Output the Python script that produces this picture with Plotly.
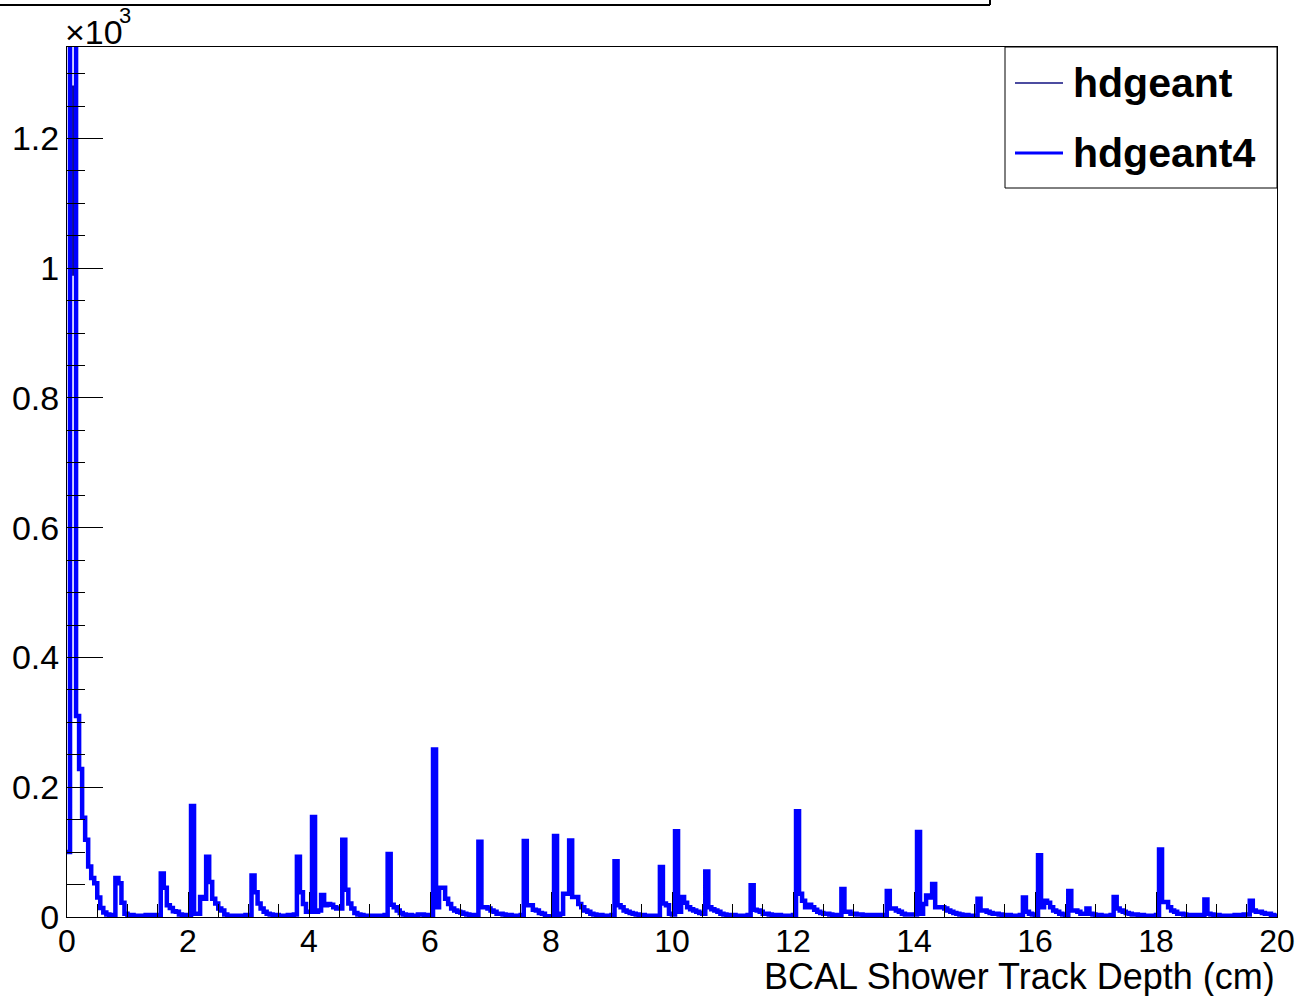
import plotly.graph_objects as go

# BCAL shower track depth, 400 bins of 0.05 cm from 0 to 20 cm
bin_width = 0.05
depth_min = 0.0
depth_max = 20.0
hdgeant4_counts = [
    # 0 - 1 cm
    100, 1500, 1500, 310, 228, 153, 119, 78, 60, 52, 30, 14, 7, 4, 3, 3, 60, 52, 22, 5,
    # 1 - 2 cm
    3, 3, 2, 2, 2, 2, 3, 3, 2, 3, 3, 67, 45, 18, 14, 9, 8, 4, 3, 2,
    # 2 - 3 cm
    3, 171, 5, 5, 31, 28, 93, 54, 28, 21, 13, 10, 4, 2, 2, 1, 2, 2, 2, 3,
    # 3 - 4 cm
    3, 64, 38, 21, 13, 8, 5, 4, 3, 3, 2, 2, 2, 3, 2, 4, 93, 38, 20, 8,
    # 4 - 5 cm
    8, 154, 8, 10, 34, 18, 20, 19, 15, 13, 13, 119, 42, 21, 13, 6, 4, 3, 2, 2,
    # 5 - 6 cm
    2, 2, 1, 2, 2, 3, 97, 19, 15, 10, 6, 4, 3, 3, 2, 2, 4, 4, 3, 3,
    # 6 - 7 cm
    3, 258, 15, 45, 45, 28, 20, 13, 10, 8, 7, 5, 4, 3, 3, 3, 116, 15, 15, 13,
    # 7 - 8 cm
    10, 8, 5, 5, 4, 3, 3, 2, 2, 2, 3, 117, 18, 18, 11, 10, 6, 5, 1, 0,
    # 8 - 9 cm
    1, 125, 3, 5, 36, 36, 118, 31, 31, 20, 15, 10, 8, 5, 4, 3, 3, 2, 2, 2,
    # 9 - 10 cm
    3, 86, 18, 15, 10, 8, 6, 5, 4, 3, 3, 2, 2, 2, 1, 2, 77, 21, 18, 5,
    # 10 - 11 cm
    4, 132, 8, 31, 22, 15, 12, 10, 8, 6, 5, 70, 15, 12, 10, 8, 5, 4, 3, 3,
    # 11 - 12 cm
    3, 2, 2, 2, 2, 3, 49, 11, 10, 8, 5, 5, 4, 3, 3, 3, 2, 2, 2, 2,
    # 12 - 13 cm
    3, 163, 36, 25, 15, 19, 15, 11, 8, 6, 5, 5, 4, 3, 3, 3, 43, 8, 8, 5,
    # 13 - 14 cm
    5, 4, 4, 3, 3, 3, 3, 2, 3, 3, 3, 40, 13, 13, 10, 8, 5, 4, 4, 4,
    # 14 - 15 cm
    4, 131, 5, 20, 33, 30, 51, 15, 15, 15, 13, 10, 8, 6, 5, 4, 3, 3, 2, 2,
    # 15 - 16 cm
    2, 28, 10, 10, 8, 6, 5, 5, 4, 3, 3, 3, 2, 2, 2, 3, 30, 8, 5, 4,
    # 16 - 17 cm
    3, 95, 15, 25, 22, 15, 10, 8, 5, 4, 3, 40, 10, 10, 8, 5, 5, 13, 5, 4,
    # 17 - 18 cm
    3, 3, 2, 2, 2, 3, 31, 13, 10, 8, 6, 5, 4, 4, 3, 3, 2, 2, 2, 2,
    # 18 - 19 cm
    3, 104, 23, 23, 15, 10, 8, 5, 5, 4, 3, 3, 3, 3, 2, 3, 27, 5, 4, 3,
    # 19 - 20 cm
    3, 2, 2, 2, 2, 2, 3, 3, 3, 4, 4, 25, 10, 8, 8, 6, 5, 5, 3, 2,
]
# hdgeant sits under hdgeant4 almost everywhere; it differs only in the first bins
hdgeant_bins_changed = [1, 2]
hdgeant_values_changed = [1280, 990]

y_tickvals = [0, 200, 400, 600, 800, 1000, 1200]
y_ticktext = ["0", "0.2", "0.4", "0.6", "0.8", "1", "1.2"]
x_tickvals = [0, 2, 4, 6, 8, 10, 12, 14, 16, 18, 20]
y_max = 1341

hdgeant_counts = list(hdgeant4_counts)
for i, v in zip(hdgeant_bins_changed, hdgeant_values_changed):
    hdgeant_counts[i] = v

n_bins = len(hdgeant4_counts)
edges = [round(depth_min + i * bin_width, 4) for i in range(n_bins + 1)]

# page size and frame position in page pixels
W, H = 1298, 996
L, R, T, B = 67, 1277, 47, 917
FONT = "Liberation Sans, Arial, Helvetica, sans-serif"


def px_x(p):
    return (p - L) / (R - L)


def px_y(p):
    return (B - p) / (B - T)


fig = go.Figure()
fig.add_trace(go.Scatter(
    x=edges, y=hdgeant_counts + [hdgeant_counts[-1]],
    mode="lines", line=dict(color="#101080", width=2, shape="hv"),
    name="hdgeant", showlegend=False, hoverinfo="skip",
))
fig.add_trace(go.Scatter(
    x=edges, y=hdgeant4_counts + [hdgeant4_counts[-1]],
    mode="lines", line=dict(color="#0000ff", width=4.5, shape="hv"),
    name="hdgeant4", showlegend=False, hoverinfo="skip",
))

fig.update_layout(
    width=W, height=H,
    margin=dict(l=L, r=W - R, t=T, b=H - B, pad=0, autoexpand=False),
    paper_bgcolor="white", plot_bgcolor="white",
    font=dict(family=FONT, size=32, color="black"),
    showlegend=False,
)
fig.update_xaxes(
    range=[depth_min, depth_max], showgrid=False, zeroline=False, automargin=False,
    showline=True, linecolor="black", linewidth=1, mirror=True,
    ticks="inside", ticklen=25, tickwidth=1, tickcolor="black",
    tickvals=x_tickvals, ticktext=[str(v) for v in x_tickvals],
    minor=dict(dtick=0.5, ticks="inside", ticklen=13, tickwidth=1, tickcolor="black", showgrid=False),
    tickfont=dict(size=32), ticklabelstandoff=-4,
)
fig.update_yaxes(
    range=[0, y_max], showgrid=False, zeroline=False, automargin=False,
    showline=True, linecolor="black", linewidth=1, mirror=True,
    ticks="inside", ticklen=36, tickwidth=1, tickcolor="black",
    tickvals=y_tickvals, ticktext=y_ticktext,
    minor=dict(dtick=50, ticks="inside", ticklen=18, tickwidth=1, tickcolor="black", showgrid=False),
    tickfont=dict(size=34),
)

# x axis title, right aligned like ROOT
fig.add_annotation(
    text="BCAL Shower Track Depth (cm)", xref="paper", yref="paper",
    x=1, y=px_y(977), xanchor="right", yanchor="middle", showarrow=False,
    font=dict(size=36),
)
# exponent label
fig.add_annotation(
    text="\u00d710", xref="paper", yref="paper",
    x=px_x(63), y=px_y(32), xanchor="left", yanchor="middle", showarrow=False,
    font=dict(size=34),
)
fig.add_annotation(
    text="3", xref="paper", yref="paper",
    x=px_x(117), y=px_y(16), xanchor="left", yanchor="middle", showarrow=False,
    font=dict(size=22),
)

# title box edge at the very top
fig.add_shape(type="line", xref="paper", yref="paper",
              x0=px_x(0), x1=px_x(990), y0=px_y(5), y1=px_y(5),
              line=dict(color="black", width=2))
fig.add_shape(type="line", xref="paper", yref="paper",
              x0=px_x(990), x1=px_x(990), y0=px_y(5), y1=px_y(0),
              line=dict(color="black", width=2))

# legend box
fig.add_shape(type="rect", xref="paper", yref="paper",
              x0=px_x(1005), x1=px_x(1277), y0=px_y(188), y1=px_y(47),
              line=dict(color="black", width=1), fillcolor="white")
legend_rows = [("hdgeant", "#101080", 1.5, 83), ("hdgeant4", "#0000ff", 3, 153)]
for label, color, lw, yp in legend_rows:
    fig.add_shape(type="line", xref="paper", yref="paper",
                  x0=px_x(1015), x1=px_x(1063), y0=px_y(yp), y1=px_y(yp),
                  line=dict(color=color, width=lw))
    fig.add_annotation(
        text="<b>%s</b>" % label, xref="paper", yref="paper",
        x=px_x(1071), y=px_y(yp), xanchor="left", yanchor="middle", showarrow=False,
        font=dict(size=41),
    )

fig.write_html(
    "out.html",
    config={"displayModeBar": False},
    post_script="document.body.style.margin='0';document.body.style.overflow='hidden';",
)
